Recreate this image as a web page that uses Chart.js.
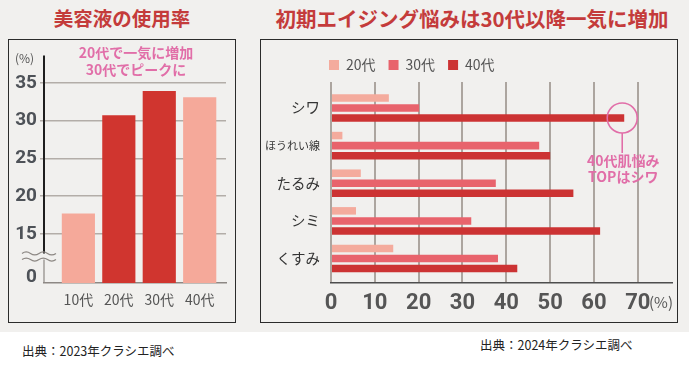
<!DOCTYPE html>
<html lang="ja">
<head>
<meta charset="utf-8">
<title>美容液の使用率 / 初期エイジング悩み</title>
<script src="https://cdn.jsdelivr.net/npm/chart.js@4.4.1/dist/chart.umd.min.js"></script>
<style>
  html, body { margin: 0; padding: 0; }
  body {
    width: 689px; height: 368px; position: relative; overflow: hidden;
    background: #fff; font-family: "Noto Sans CJK JP", sans-serif;
  }
  .band { position: absolute; left: 0; top: 0; width: 689px; height: 332px; background: #f1f0ee; }
  .title {
    position: absolute; top: 5px; height: 26px; line-height: 26px;
    color: #c43b3b; font-weight: bold; text-align: center; white-space: nowrap;
  }
  .panel { position: absolute; border: 1px solid #2b2b2b; box-sizing: border-box; }
  .src { position: absolute; font-size: 12.5px; color: #222; white-space: nowrap; }
  canvas { position: absolute; }
</style>
</head>
<body>
<div class="band"></div>
<div class="title" style="left:0; width:244px; font-size:19.5px;">美容液の使用率</div>
<div class="title" style="left:260px; width:424px; font-size:20.5px;">初期エイジング悩みは30代以降一気に増加</div>
<div class="panel" style="left:8px; top:39px; width:228px; height:284px;"></div>
<div class="panel" style="left:260px; top:39px; width:418px; height:284px;"></div>
<canvas id="usageChart" width="226" height="280" style="left:9px; top:41px; width:226px; height:280px;"></canvas>
<canvas id="concernChart" width="415" height="280" style="left:261px; top:41px; width:415px; height:280px;"></canvas>
<div class="src" style="left:22px; top:341px;">出典：2023年クラシエ調べ</div>
<div class="src" style="left:480px; top:335px;">出典：2024年クラシエ調べ</div>

<script>
// Left chart data: serum usage by age group (%)
const ageGroups = ['10代', '20代', '30代', '40代'];
const serumUsage = [17.7, 30.7, 33.9, 33.1];
const usageTicks = [15, 20, 25, 30, 35];
const usageMin = 8.49;
const usageMax = 38.63;
const breakTickPos = 9.3; // where the "0" label sits below the axis break

// Right chart data: early aging concerns by age (%)
const concerns = ['シワ', 'ほうれい線', 'たるみ', 'シミ', 'くすみ'];
const concernAges = ['20代', '30代', '40代'];
const concern20s = [13.2, 2.6, 6.8, 5.7, 14.2];
const concern30s = [20.1, 47.5, 37.6, 32.0, 38.1];
const concern40s = [66.9, 50.0, 55.3, 61.4, 42.5];
const concernTicks = [0, 10, 20, 30, 40, 50, 60, 70];

const jpFont = '"Noto Sans CJK JP", "Noto Sans", sans-serif';
const numFont = '"Liberation Sans Narrow", "Roboto", sans-serif';
const pink = '#e16ea8';
const light = '#f5a99a';
const red = '#d0352f';

// Broken y axis + notes on the left chart
const axisBreakPlugin = {
    id: 'axisBreak',
    afterDraw(chart) {
        const { ctx, chartArea } = chart;
        const y = chart.scales.y;
        const x0 = chartArea.left;
        const b1 = y.getPixelForValue(12.4);
        const b2 = y.getPixelForValue(11.6);
        ctx.save();
        ctx.lineWidth = 2;
        ctx.strokeStyle = '#1e1e1e';
        ctx.beginPath();
        ctx.moveTo(x0, chartArea.top);
        ctx.lineTo(x0, b1);
        ctx.stroke();
        ctx.lineWidth = 1.2;
        ctx.strokeStyle = '#8d8884';
        ctx.beginPath();
        ctx.moveTo(x0, b2);
        ctx.lineTo(x0, chartArea.bottom);
        ctx.stroke();
        // wavy break marks
        [b1, b2].forEach(yy => {
            ctx.beginPath();
            const start = x0 - 22;
            ctx.moveTo(start, yy);
            for (let k = 0; k < 4; k++) {
                const sx = start + k * 8.5;
                ctx.quadraticCurveTo(sx + 4.25, yy + (k % 2 ? 3 : -3), sx + 8.5, yy);
            }
            ctx.stroke();
        });
        // unit + note
        ctx.fillStyle = '#555';
        ctx.font = '12px ' + jpFont;
        ctx.textAlign = 'left';
        ctx.textBaseline = 'middle';
        ctx.fillText('(%)', 6, 17);
        ctx.fillStyle = pink;
        ctx.font = 'bold 14px ' + jpFont;
        ctx.textAlign = 'center';
        ctx.fillText('20代で一気に増加', 127, 12);
        ctx.fillText('30代でピークに', 127, 29);
        ctx.restore();
    }
};

new Chart(document.getElementById('usageChart'), {
    type: 'bar',
    data: {
        datasets: [{
            label: '美容液の使用率',
            data: serumUsage.map((v, i) => ({ x: i, y: v })),
            backgroundColor: [light, red, red, light],
            base: usageMin,
            categoryPercentage: 1,
            barPercentage: 0.82
        }]
    },
    options: {
        responsive: false,
        animation: false,
        layout: { padding: { left: 0, top: 12, right: 9, bottom: 0 } },
        plugins: { legend: { display: false }, tooltip: { enabled: false } },
        scales: {
            x: {
                type: 'linear',
                offset: false,
                min: -0.85,
                max: 3.65,
                afterBuildTicks: s => { s.ticks = ageGroups.map((_, i) => ({ value: i })); },
                afterFit: s => { s.height = 38; },
                grid: { display: false, drawTicks: false, offset: false },
                border: { display: true, color: '#8d8884', width: 1.5 },
                ticks: {
                    callback: v => ageGroups[v],
                    color: '#555',
                    font: { size: 14, family: jpFont },
                    padding: 8,
                    maxRotation: 0,
                    autoSkip: false
                }
            },
            y: {
                min: usageMin,
                max: usageMax,
                afterBuildTicks: s => {
                    s.ticks = [{ value: breakTickPos }].concat(usageTicks.map(v => ({ value: v })));
                },
                afterFit: s => { s.width = 35; },
                grid: {
                    color: c => (c.tick && c.tick.value >= 15 ? '#b3ada8' : 'rgba(0,0,0,0)'),
                    lineWidth: 1.5,
                    tickLength: 4
                },
                border: { display: false },
                ticks: {
                    callback: v => (v === breakTickPos ? '0' : String(v)),
                    color: '#4e5258',
                    font: { size: 19, weight: 'bold', family: numFont },
                    padding: 3
                }
            }
        }
    },
    plugins: [axisBreakPlugin]
});

// Legend sits over the plot's left edge, not the canvas edge
const legendShiftPlugin = {
    id: 'legendShift',
    afterLayout(chart) {
        chart.legend.left += 55;
        chart.legend.right += 55;
    }
};

// Circle + note on the right chart
const topConcernPlugin = {
    id: 'topConcern',
    afterDraw(chart) {
        const { ctx, chartArea } = chart;
        const bar = chart.getDatasetMeta(2).data[0];
        const cx = bar.x - 2;
        const cy = bar.y;
        const r = 15;
        ctx.save();
        ctx.strokeStyle = pink;
        ctx.lineWidth = 1.6;
        ctx.beginPath();
        ctx.arc(cx, cy, r, 0, Math.PI * 2);
        ctx.stroke();
        ctx.beginPath();
        ctx.moveTo(cx, cy + r);
        ctx.lineTo(cx, cy + r + 20);
        ctx.stroke();
        ctx.fillStyle = pink;
        ctx.font = 'bold 14px ' + jpFont;
        ctx.textAlign = 'center';
        ctx.textBaseline = 'middle';
        ctx.fillText('40代肌悩み', cx + 1, cy + 43);
        ctx.fillText('TOPはシワ', cx + 1, cy + 59);
        // unit after the last tick
        ctx.fillStyle = '#555';
        ctx.font = '15px ' + jpFont;
        ctx.textAlign = 'left';
        ctx.fillText('(%)', chartArea.right - 23, chartArea.bottom + 19);
        ctx.restore();
    }
};

new Chart(document.getElementById('concernChart'), {
    type: 'bar',
    data: {
        datasets: [
            { label: concernAges[0], data: concern20s.map((v, i) => ({ x: v, y: i })), backgroundColor: '#f4ab9d' },
            { label: concernAges[1], data: concern30s.map((v, i) => ({ x: v, y: i })), backgroundColor: '#e8636c' },
            { label: concernAges[2], data: concern40s.map((v, i) => ({ x: v, y: i })), backgroundColor: '#cc3333' }
        ]
    },
    options: {
        indexAxis: 'y',
        responsive: false,
        animation: false,
        categoryPercentage: 0.8,
        barPercentage: 0.75,
        layout: { padding: { left: 0, top: 4, right: 4, bottom: 0 } },
        plugins: {
            legend: {
                position: 'top',
                align: 'start',
                labels: {
                    boxWidth: 10,
                    boxHeight: 10,
                    padding: 13,
                    color: '#555',
                    font: { size: 14, family: jpFont }
                }
            },
            tooltip: { enabled: false }
        },
        scales: {
            x: {
                type: 'linear',
                min: 0,
                max: 77.8,
                afterBuildTicks: s => { s.ticks = concernTicks.map(v => ({ value: v })); },
                afterFit: s => { s.height = 38; },
                grid: { color: '#aca59f', lineWidth: 2, drawTicks: false },
                border: { display: true, color: '#4d4d4d', width: 1.5 },
                ticks: {
                    color: '#555',
                    font: { size: 22, weight: 'bold', family: numFont },
                    padding: 7
                }
            },
            y: {
                type: 'linear',
                offset: false,
                reverse: true,
                min: -0.69,
                max: 4.65,
                afterBuildTicks: s => { s.ticks = concerns.map((_, i) => ({ value: i })); },
                afterFit: s => { s.width = 70; },
                grid: { display: false, drawTicks: false, offset: false },
                border: { display: false },
                ticks: {
                    callback: v => concerns[v],
                    color: '#333',
                    padding: 11,
                    font: c => ({ size: c.tick && c.tick.value === 1 ? 11 : 14.5, family: jpFont })
                }
            }
        }
    },
    plugins: [legendShiftPlugin, topConcernPlugin]
});
</script>
</body>
</html>
